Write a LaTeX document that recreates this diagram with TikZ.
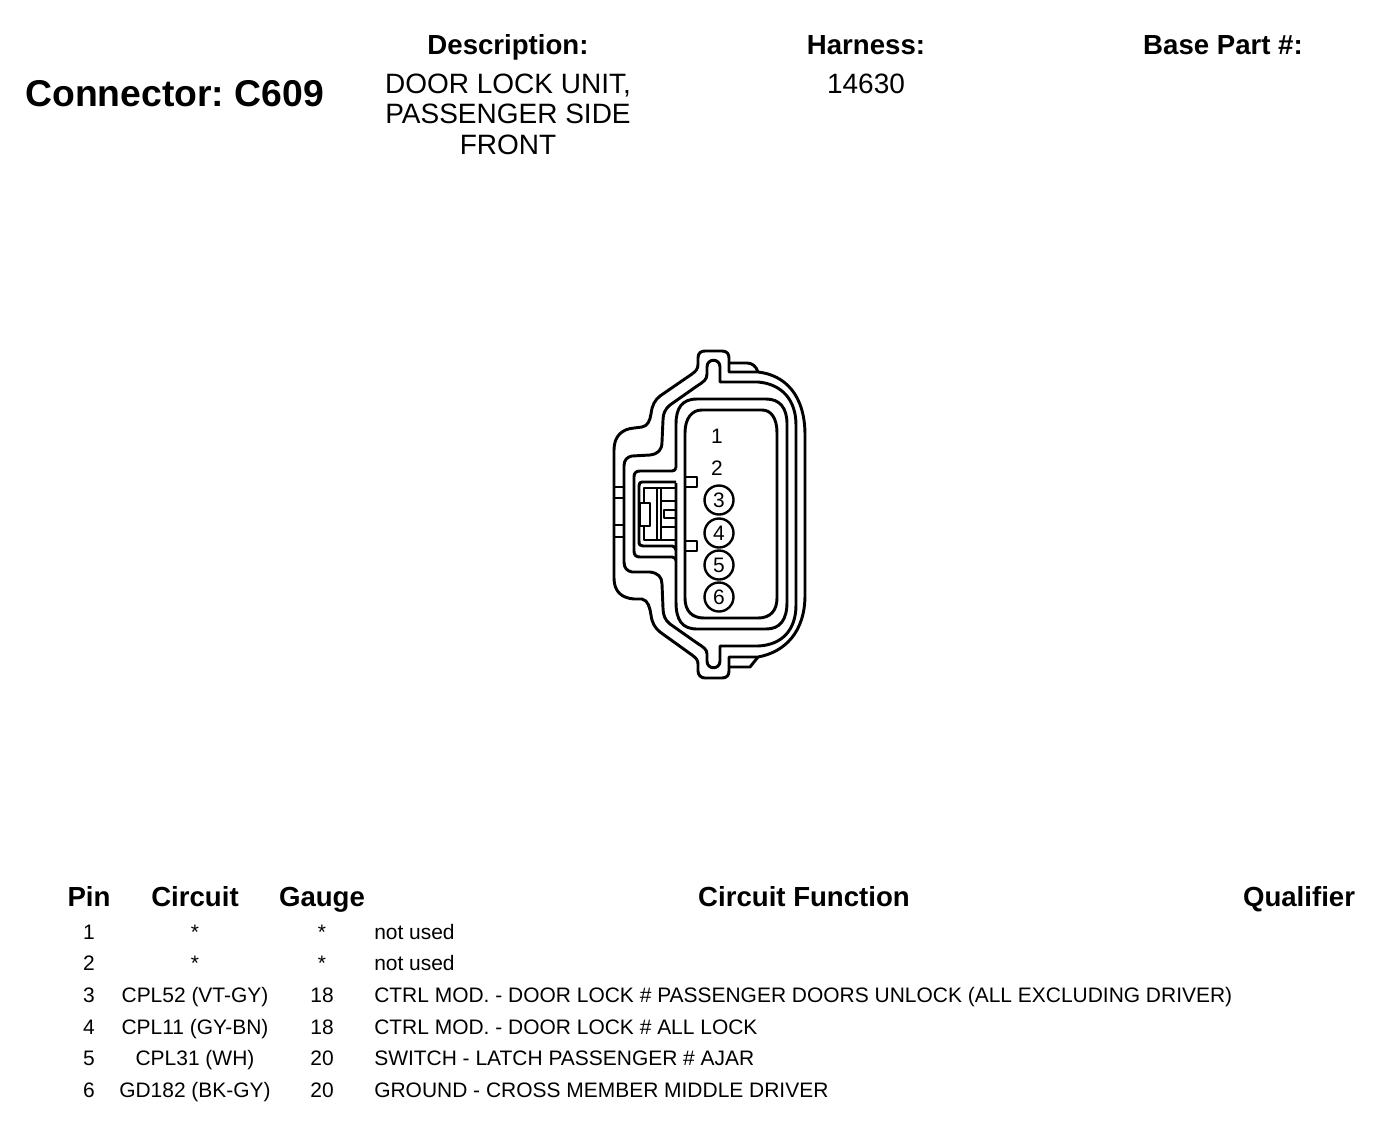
\documentclass[tikz,border=0pt]{standalone}
\usepackage{fontspec}
\setmainfont{Liberation Sans}
\frenchspacing
\tikzset{
  bigtitle/.style={anchor=base west, inner sep=0pt, font=\fontsize{28}{30}\selectfont\bfseries},
  headtext/.style={anchor=base, inner sep=0pt, font=\fontsize{20.7}{23}\selectfont\bfseries},
  valuetext/.style={anchor=base, inner sep=0pt, font=\fontsize{21}{23.1}\selectfont},
  cell/.style={anchor=base, inner sep=0pt, font=\fontsize{15.72}{18}\selectfont},
  funccell/.style={cell, anchor=base west},
  pinlabel/.style={inner sep=0pt, font=\fontsize{15.7}{17}\selectfont},
  pinring/.style={pinlabel, circle, draw, line width=1.8pt, minimum size=29*0.75pt},
  shell/.style={line width=2.2pt, line join=round}
}
\begin{document}
\begin{tikzpicture}[x=0.75pt, y=-0.75pt]
\useasboundingbox (0,0) rectangle (1392,1122);

% titles
\node [bigtitle] (title) at (25,106) {Connector: C609};
\node [headtext] (deschead) at (508,54) {Description:};
\node [headtext] (harnhead) at (866,54) {Harness:};
\node [headtext] (basehead) at (1223,54) {Base Part \#:};
\node [valuetext] (desc1) at (508,93) {DOOR LOCK UNIT,};
\node [valuetext] (desc2) at (508,123) {PASSENGER SIDE};
\node [valuetext] (desc3) at (508,154) {FRONT};
\node [valuetext] (harnval) at (866,93) {14630};

% outer shell
\draw [shell] (614,450) .. controls (614,436) and (622,429) .. (634,428) -- (642,427)
  .. controls (648,426) and (650,420) .. (651,414) .. controls (652,405) and (655,400) .. (660,396)
  -- (692,374) .. controls (696,371) and (698,369) .. (698,364) -- (698,358)
  .. controls (698,353) and (701,351) .. (705,351) -- (722,351)
  .. controls (727,351) and (729,354) .. (729,358) -- (729,372) -- (758,372)
  .. controls (785,375) and (805,395) .. (805,435) -- (805,595)
  .. controls (805,632) and (785,652) .. (758,657) -- (729,657) -- (729,671)
  .. controls (729,675) and (727,678) .. (722,678) -- (705,678)
  .. controls (701,678) and (698,675) .. (698,671) -- (698,664)
  .. controls (698,660) and (696,658) .. (692,655) -- (660,632)
  .. controls (655,628) and (652,623) .. (651,615) .. controls (650,608) and (648,600) .. (642,599)
  -- (634,599) .. controls (622,598) and (614,592) .. (614,578) -- cycle;
\draw [shell] (729,363) -- (747,363) .. controls (752,363) and (756,366) .. (758,372);
\draw [shell] (729,667) -- (750,667) -- (758,657);

% channel
\draw [shell] (624,466) .. controls (624,460) and (627,457) .. (632,456) -- (650,455)
  .. controls (658,454) and (662,450) .. (662,442) -- (663,420)
  .. controls (663,414) and (665,409) .. (670,405) -- (697,386)
  .. controls (703,382) and (707,380) .. (707,374) -- (707,367)
  .. controls (707,358) and (720,358) .. (720,367) -- (720,382) -- (758,382)
  .. controls (782,384) and (796,400) .. (796,425) -- (796,605)
  .. controls (796,630) and (782,645) .. (758,646) -- (720,646) -- (720,661)
  .. controls (720,670) and (707,670) .. (707,661) -- (707,654)
  .. controls (707,649) and (703,647) .. (697,643) -- (670,624)
  .. controls (665,620) and (663,615) .. (663,608) -- (662,584)
  .. controls (662,577) and (658,573) .. (650,572) -- (632,572)
  .. controls (627,571) and (624,568) .. (624,562) -- cycle;

% seal
\draw [shell] (676,468) -- (676,424) .. controls (676,408) and (682,399) .. (697,399) -- (766,399)
  .. controls (780,399) and (787,408) .. (787,424) -- (787,602)
  .. controls (787,620) and (780,629) .. (766,629) -- (697,629)
  .. controls (682,629) and (676,620) .. (676,602) -- (676,483);
\draw [shell] (676,468) .. controls (675,470) and (674,471) .. (672,471) -- (640,471)
  .. controls (636,471) and (634,473) .. (634,477) -- (634,551)
  .. controls (634,555) and (636,557) .. (640,557) -- (672,557)
  .. controls (674,557) and (675,558) .. (676,560);
\draw [shell] (685,433) .. controls (685,418) and (692,410) .. (702,410) -- (762,410)
  .. controls (771,410) and (777,418) .. (777,433) -- (777,598)
  .. controls (777,611) and (770,618) .. (758,618) -- (704,618)
  .. controls (692,618) and (685,611) .. (685,598) -- cycle;

% latch
\draw [shell] (676,482) -- (642,482) .. controls (640,482) and (639,483) .. (639,486) -- (639,541)
  .. controls (639,545) and (640,546) .. (643,546) -- (672,546) .. controls (674,546) and (675,547) .. (676,550);
\draw [shell] (644,503) -- (644,488) -- (676,488);
\draw [shell] (644,526) -- (644,540) -- (676,540);
\draw [line width=1.6pt] (657,488) -- (657,540);
\draw [line width=1.6pt] (661,488) -- (661,540);
\draw [shell] (640,503) rectangle (650,526);
\draw [shell] (664,510) rectangle (676,518);
\draw [shell] (661,501) -- (676,501);
\draw [shell] (661,527) -- (676,527);

% tabs
\draw [shell] (614,487) -- (624,487);
\draw [shell] (614,498) -- (624,498);
\draw [shell] (614,525) -- (624,525);
\draw [shell] (614,537) -- (624,537);
\draw [shell] (685,477) -- (697,477) -- (697,487) -- (685,487);
\draw [shell] (685,541) -- (697,541) -- (697,551) -- (685,551);

% pins
\node [pinlabel] (pin1) at (717,436) {1};
\node [pinlabel] (pin2) at (717,468) {2};
\node [pinring] (pin3) at (719,500) {3};
\node [pinring] (pin4) at (719,533) {4};
\node [pinring] (pin5) at (719,565) {5};
\node [pinring] (pin6) at (719,597) {6};

% table head
\node [headtext] (pinhead) at (89,906) {Pin};
\node [headtext] (circhead) at (195,906) {Circuit};
\node [headtext] (gaugehead) at (322,906) {Gauge};
\node [headtext] (funchead) at (804,906) {Circuit Function};
\node [headtext] (qualhead) at (1299,906) {Qualifier};

% table rows
\node [cell] (rowa) at (89,939) {1};
\node [cell] (circa) at (195,939) {*};
\node [cell] (gaugea) at (322,939) {*};
\node [funccell] (funca) at (374,939) {not used};
\node [cell] (rowb) at (89,970) {2};
\node [cell] (circb) at (195,970) {*};
\node [cell] (gaugeb) at (322,970) {*};
\node [funccell] (funcb) at (374,970) {not used};
\node [cell] (rowc) at (89,1002) {3};
\node [cell] (circc) at (195,1002) {CPL52 (VT-GY)};
\node [cell] (gaugec) at (322,1002) {18};
\node [funccell] (funcc) at (374,1002) {CTRL MOD. - DOOR LOCK \# PASSENGER DOORS UNLOCK (ALL EXCLUDING DRIVER)};
\node [cell] (rowd) at (89,1034) {4};
\node [cell] (circd) at (195,1034) {CPL11 (GY-BN)};
\node [cell] (gauged) at (322,1034) {18};
\node [funccell] (funcd) at (374,1034) {CTRL MOD. - DOOR LOCK \# ALL LOCK};
\node [cell] (rowe) at (89,1065) {5};
\node [cell] (circe) at (195,1065) {CPL31 (WH)};
\node [cell] (gaugee) at (322,1065) {20};
\node [funccell] (funce) at (374,1065) {SWITCH - LATCH PASSENGER \# AJAR};
\node [cell] (rowf) at (89,1097) {6};
\node [cell] (circf) at (195,1097) {GD182 (BK-GY)};
\node [cell] (gaugef) at (322,1097) {20};
\node [funccell] (funcf) at (374,1097) {GROUND - CROSS MEMBER MIDDLE DRIVER};
\end{tikzpicture}
\end{document}
